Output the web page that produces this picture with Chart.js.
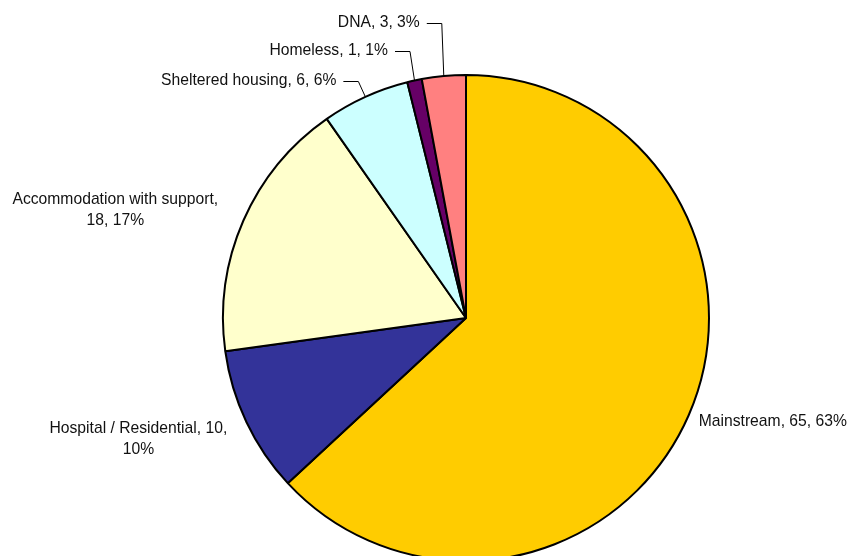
<!DOCTYPE html>
<html>
<head>
<meta charset="utf-8">
<script src="https://cdn.jsdelivr.net/npm/chart.js@4"></script>
<style>
  html, body { margin: 0; padding: 0; background: #fff; overflow: hidden; }
  canvas { display: block; }
</style>
</head>
<body>
<canvas id="pie" width="853" height="620"></canvas>
<script>
// Slices, clockwise from 12 o'clock
const categories = ['Mainstream', 'Hospital / Residential', 'Accommodation with support', 'Sheltered housing', 'Homeless', 'DNA'];
const counts = [65, 10, 18, 6, 1, 3];
const colours = ['#FFCC00', '#333399', '#FFFFCC', '#CCFFFF', '#660066', '#FF8080'];

// Label placement relative to the outer midpoint of each slice
// [dx, dy, align, wrapWidth, leader]
const labelPlacement = [
    [10, 6, 'left', 0, false],
    [-108, 17, 'center', 210, false],
    [-128, -11, 'center', 210, false],
    [-29, -16, 'right', 0, true],
    [-26.5, -29.5, 'right', 0, true],
    [-24, -53, 'right', 0, true]
];

const total = counts.reduce((a, b) => a + b, 0);
const FONT = '15.7px "Liberation Sans", Arial, sans-serif';
const LINE_H = 21;

function wrapText(ctx, text, maxW) {
    if (!maxW) return [text];
    const words = text.split(' ');
    const lines = [];
    let cur = '';
    words.forEach(w => {
        const test = cur ? cur + ' ' + w : w;
        if (cur && ctx.measureText(test).width > maxW) {
            lines.push(cur);
            cur = w;
        } else {
            cur = test;
        }
    });
    if (cur) lines.push(cur);
    return lines;
}

const sliceLabels = {
    id: 'sliceLabels',
    afterDraw(chart) {
        const ctx = chart.ctx;
        const arcs = chart.getDatasetMeta(0).data;
        ctx.save();
        ctx.font = FONT;
        ctx.fillStyle = '#111';
        ctx.strokeStyle = '#000';
        ctx.lineWidth = 1;
        ctx.textBaseline = 'middle';
        arcs.forEach((arc, i) => {
            const mid = (arc.startAngle + arc.endAngle) / 2;
            const px = arc.x + Math.cos(mid) * arc.outerRadius;
            const py = arc.y + Math.sin(mid) * arc.outerRadius;
            const [dx, dy, align, wrapW, leader] = labelPlacement[i];
            const pct = Math.round(counts[i] / total * 100);
            const text = categories[i] + ', ' + counts[i] + ', ' + pct + '%';
            const lines = wrapText(ctx, text, wrapW);
            const lx = px + dx;
            const ly = py + dy;
            ctx.textAlign = align;
            const top = ly - (lines.length - 1) * LINE_H / 2;
            lines.forEach((ln, k) => ctx.fillText(ln, lx, top + k * LINE_H));
            if (leader) {
                const y = Math.round(ly) + 0.5;
                ctx.beginPath();
                ctx.moveTo(lx + 7, y);
                ctx.lineTo(lx + 22, y);
                ctx.lineTo(px, py);
                ctx.stroke();
            }
        });
        ctx.restore();
    }
};

new Chart(document.getElementById('pie').getContext('2d'), {
    type: 'pie',
    data: {
        labels: categories,
        datasets: [{
            data: counts,
            backgroundColor: colours,
            borderColor: '#000',
            borderWidth: 2
        }]
    },
    options: {
        responsive: false,
        animation: false,
        layout: { padding: { left: 222, right: 143, top: 74, bottom: 58 } },
        plugins: {
            legend: { display: false },
            tooltip: { enabled: false }
        }
    },
    plugins: [sliceLabels]
});
</script>
</body>
</html>
